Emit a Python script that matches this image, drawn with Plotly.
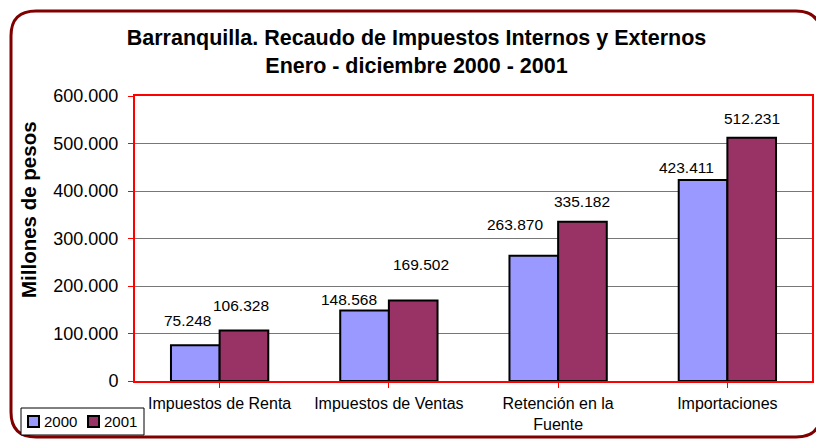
import plotly.graph_objects as go

categories = ["Impuestos de Renta", "Impuestos de Ventas", "Retención en la<br>Fuente", "Importaciones"]
values_2000 = [75248, 148568, 263870, 423411]
values_2001 = [106328, 169502, 335182, 512231]
series_names = ["2000", "2001"]
y_ticks = [0, 100000, 200000, 300000, 400000, 500000, 600000]

# label nudges (pixels) to mimic the original label placement
label_dx = [[-8, -16, -19, -17], [-3, 8, 0, 0]]
label_dy = [[25, 11, 31, 12], [25, 36, 20, 19]]

W, H = 816, 440
ML, MR, MT, MB = 135, 4, 96, 59
PW, PH = W - ML - MR, H - MT - MB
BARGAP = 0.425
FONT = "Liberation Sans, Arial, sans-serif"
colors = ["#9999FF", "#993366"]


def px2paper(x, y):
    return (x - ML) / PW, (H - MB - y) / PH


fig = go.Figure()
for name, vals, col in zip(series_names, [values_2000, values_2001], colors):
    fig.add_trace(go.Bar(
        x=list(range(len(categories))), y=vals, name=name,
        marker=dict(color=col, line=dict(color="black", width=2)),
        hoverinfo="y", showlegend=False,
    ))

bw = (1 - BARGAP) / 2
annotations = []
for j, vals in enumerate([values_2000, values_2001]):
    for i, v in enumerate(vals):
        annotations.append(dict(
            x=i + (j - 0.5) * bw, y=v, xref="x", yref="y",
            text=f"{v:,}".replace(",", "."), showarrow=False,
            xanchor="center", yanchor="middle",
            xshift=label_dx[j][i], yshift=label_dy[j][i],
            font=dict(family=FONT, size=15.5, color="black"),
        ))

# y axis title
tx, ty = px2paper(28, 210)
annotations.append(dict(
    x=tx, y=ty, xref="paper", yref="paper", text="<b>Millones de pesos</b>",
    textangle=-90, showarrow=False, xanchor="center", yanchor="middle",
    font=dict(family=FONT, size=20.5, color="black"),
))


def P(x, y):
    a, b = px2paper(x, y)
    return f"{a:.5f},{b:.5f}"


# outer rounded frame
x0, y0, x1, y1, r = 11, 11, 821, 437, 25
path = (f"M {P(x0 + r, y0)} L {P(x1 - r, y0)} Q {P(x1, y0)} {P(x1, y0 + r)} "
        f"L {P(x1, y1 - r)} Q {P(x1, y1)} {P(x1 - r, y1)} "
        f"L {P(x0 + r, y1)} Q {P(x0, y1)} {P(x0, y1 - r)} "
        f"L {P(x0, y0 + r)} Q {P(x0, y0)} {P(x0 + r, y0)} Z")
shapes = [dict(type="path", path=path, xref="paper", yref="paper",
               line=dict(color="#800000", width=3), layer="below")]

# legend (drawn as a box with swatches)
bx0, by0 = px2paper(21, 435)
bx1, by1 = px2paper(144, 408)
shapes.append(dict(type="rect", xref="paper", yref="paper", x0=bx0, y0=by0, x1=bx1, y1=by1,
                   line=dict(color="black", width=1), fillcolor="white"))
legend_x = [28, 88]
for k, (name, col) in enumerate(zip(series_names, colors)):
    sx0, sy0 = px2paper(legend_x[k], 427)
    sx1, sy1 = px2paper(legend_x[k] + 11, 416)
    shapes.append(dict(type="rect", xref="paper", yref="paper", x0=sx0, y0=sy0, x1=sx1, y1=sy1,
                       line=dict(color="black", width=2), fillcolor=col))
    ax, ay = px2paper(legend_x[k] + 14, 421.5)
    annotations.append(dict(x=ax, y=ay, xref="paper", yref="paper", text=name,
                            showarrow=False, xanchor="left", yanchor="middle",
                            font=dict(family=FONT, size=15, color="black")))

fig.update_layout(
    width=W, height=H,
    margin=dict(l=ML, r=MR, t=MT, b=MB, autoexpand=False),
    paper_bgcolor="white", plot_bgcolor="white",
    separators=",.",
    barmode="group", bargap=BARGAP, bargroupgap=0,
    font=dict(family=FONT, color="black"),
    showlegend=False,
    title=dict(
        text="<b>Barranquilla. Recaudo de Impuestos Internos y Externos<br>Enero - diciembre 2000 - 2001</b>",
        x=416.5 / W, xref="container", xanchor="center",
        y=1 - 45 / H, yref="container", yanchor="middle",
        font=dict(family=FONT, size=21.5, color="black"),
    ),
    xaxis=dict(
        tickmode="array", tickvals=list(range(len(categories))), ticktext=categories,
        range=[-0.5, len(categories) - 0.5],
        showline=True, linecolor="red", linewidth=2, mirror=True,
        ticks="outside", tickcolor="red", ticklen=5, tickwidth=1,
        ticklabelstandoff=2,
        showgrid=False, zeroline=False, tickson="boundaries",
        tickfont=dict(family=FONT, size=16, color="black"),
    ),
    yaxis=dict(
        range=[0, 600000], tickvals=y_ticks, tickformat=",d",
        showline=True, linecolor="red", linewidth=2, mirror=True,
        ticks="outside", tickcolor="red", ticklen=5, tickwidth=1,
        ticklabelstandoff=6,
        showgrid=True, gridcolor="#777777", gridwidth=1, zeroline=False,
        tickfont=dict(family=FONT, size=18, color="black"),
    ),
    annotations=annotations,
    shapes=shapes,
)

fig.write_html("out.html", config={"displayModeBar": False},
               post_script="document.body.style.margin='0';document.body.style.overflow='hidden';")
